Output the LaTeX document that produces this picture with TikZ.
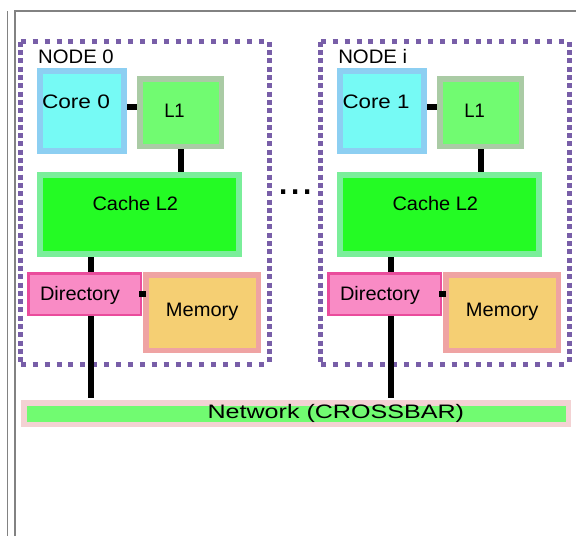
\documentclass[tikz,border=0pt]{standalone}
\usepackage{fontspec}
\setmainfont{Liberation Sans}
\usepackage{graphicx}

% fill and edge colours of the blocks
\definecolor{corefill}{RGB}{118,250,245}
\definecolor{coreline}{RGB}{141,207,242}
\definecolor{lonefill}{RGB}{113,251,113}
\definecolor{loneline}{RGB}{170,203,165}
\definecolor{ltwofill}{RGB}{36,251,36}
\definecolor{ltwoline}{RGB}{122,238,154}
\definecolor{dirfill}{RGB}{249,139,197}
\definecolor{dirline}{RGB}{234,76,156}
\definecolor{memfill}{RGB}{245,207,115}
\definecolor{memline}{RGB}{239,163,163}
\definecolor{netfill}{RGB}{113,251,113}
\definecolor{netline}{RGB}{243,210,211}
\definecolor{grpline}{RGB}{120,94,168}
\definecolor{frameline}{RGB}{130,130,130}

% set a text stretched horizontally to a given width (pt)
\newcommand\fitw[2]{\pgfmathsetmacro\fwfac{#1/width("#2")}\scalebox{\fwfac}[1]{#2}}

\tikzset{
  blk/.style={rectangle, inner sep=0pt},
  bar/.style={line width=6pt, black},
  lbl/.style={anchor=base, inner sep=0pt, font=\fontsize{19.5}{21}\selectfont},
  dotsh/.style={line width=5pt, grpline, dash pattern=on 5pt off 6.9pt},
  dotsv/.style={line width=5pt, grpline, dash pattern=on 5pt off 3.3pt},
  frame/.style={line width=1.3pt, frameline},
}

\begin{document}
\begin{tikzpicture}[x=1pt,y=-1pt]
\useasboundingbox (0,0) rectangle (576,536);

% page frame
\coordinate (fa) at (7.5,11);
\coordinate (fb) at (7.5,536);
\coordinate (fc) at (15,536);
\coordinate (fd) at (15,11);
\coordinate (fe) at (576,11);
\draw[frame] (fa) -- (fb);
\draw[frame] (fc) -- (fd) -- (fe);

% interconnect
\node[blk, fill=netfill, draw=netline, line width=5.5pt,
      minimum width=544.5pt, minimum height=21.5pt] (net) at (296,413.5) {};
\node[lbl] (nett) at (335.8,418.3) {\fitw{256.5}{Network (CROSSBAR)}};

% the two processing nodes
\foreach \off/\k/\cname/\ttl/\tw/\cw in
  {0/0/Core 0/NODE 0/75.5/68, 300/1/Core 1/NODE i/69/67}{
  \begin{scope}[xshift=\off pt]
    \node[blk, minimum width=248pt, minimum height=322pt] (grp\k) at (145,203) {};
    \draw[dotsh] (grp\k.north west) -- (grp\k.north east);
    \draw[dotsh] (grp\k.south west) -- (grp\k.south east);
    \draw[dotsv] (grp\k.north west) -- (grp\k.south west);
    \draw[dotsv] (grp\k.north east) -- (grp\k.south east);
    \node[lbl] (grpt\k) at (76+\tw/2-37.75,63) {\fitw{\tw}{\ttl}};

    \node[blk, fill=corefill, draw=coreline, line width=6pt,
          minimum width=84pt, minimum height=80pt] (core\k) at (82,111) {};
    \node[lbl] (coret\k) at (76,108) {\fitw{\cw}{\cname}};

    \node[blk, fill=lonefill, draw=loneline, line width=5.5pt,
          minimum width=81.5pt, minimum height=67.5pt] (lone\k) at (180.5,112.5) {};
    \node[lbl] (lonet\k) at (174.5,117) {\fitw{20.5}{L1}};

    \node[blk, fill=ltwofill, draw=ltwoline, line width=6pt,
          minimum width=199pt, minimum height=79pt] (ltwo\k) at (139.5,214.5) {};
    \node[lbl] (ltwot\k) at (135.3,210.7) {\fitw{85.5}{Cache L2}};

    \node[blk, fill=dirfill, draw=dirline, line width=2.5pt,
          minimum width=112.5pt, minimum height=41.5pt] (dir\k) at (84.5,294) {};
    \node[lbl] (dirt\k) at (80,300) {\fitw{80}{Directory}};

    \node[blk, fill=memfill, draw=memline, line width=5.5pt,
          minimum width=112.5pt, minimum height=75.5pt] (mem\k) at (202,312.5) {};
    \node[lbl] (memt\k) at (202.2,316.7) {\fitw{72.5}{Memory}};

    % links
    \coordinate (cl\k) at (0,107);
    \draw[bar] (core\k.east |- cl\k) -- (lone\k.west |- cl\k);
    \draw[bar] (lone\k.south) -- (lone\k.south |- ltwo\k.north);
    \draw[bar] ([xshift=-48.5pt]ltwo\k.south) -- ([xshift=-48.5pt]ltwo\k.south |- dir\k.north);
    \draw[line width=5.5pt, line cap=rect] (dir\k.east) -- (mem\k.west |- dir\k.east);
    \draw[bar, shorten >=2pt] ([xshift=6.5pt]dir\k.south) -- ([xshift=6.5pt]dir\k.south |- net.north);
  \end{scope}
}

% ellipsis between the nodes
\node[anchor=base, inner sep=0pt, font=\fontsize{44}{44}\selectfont] (more) at (295.5,194.5) {...};
\end{tikzpicture}
\end{document}
